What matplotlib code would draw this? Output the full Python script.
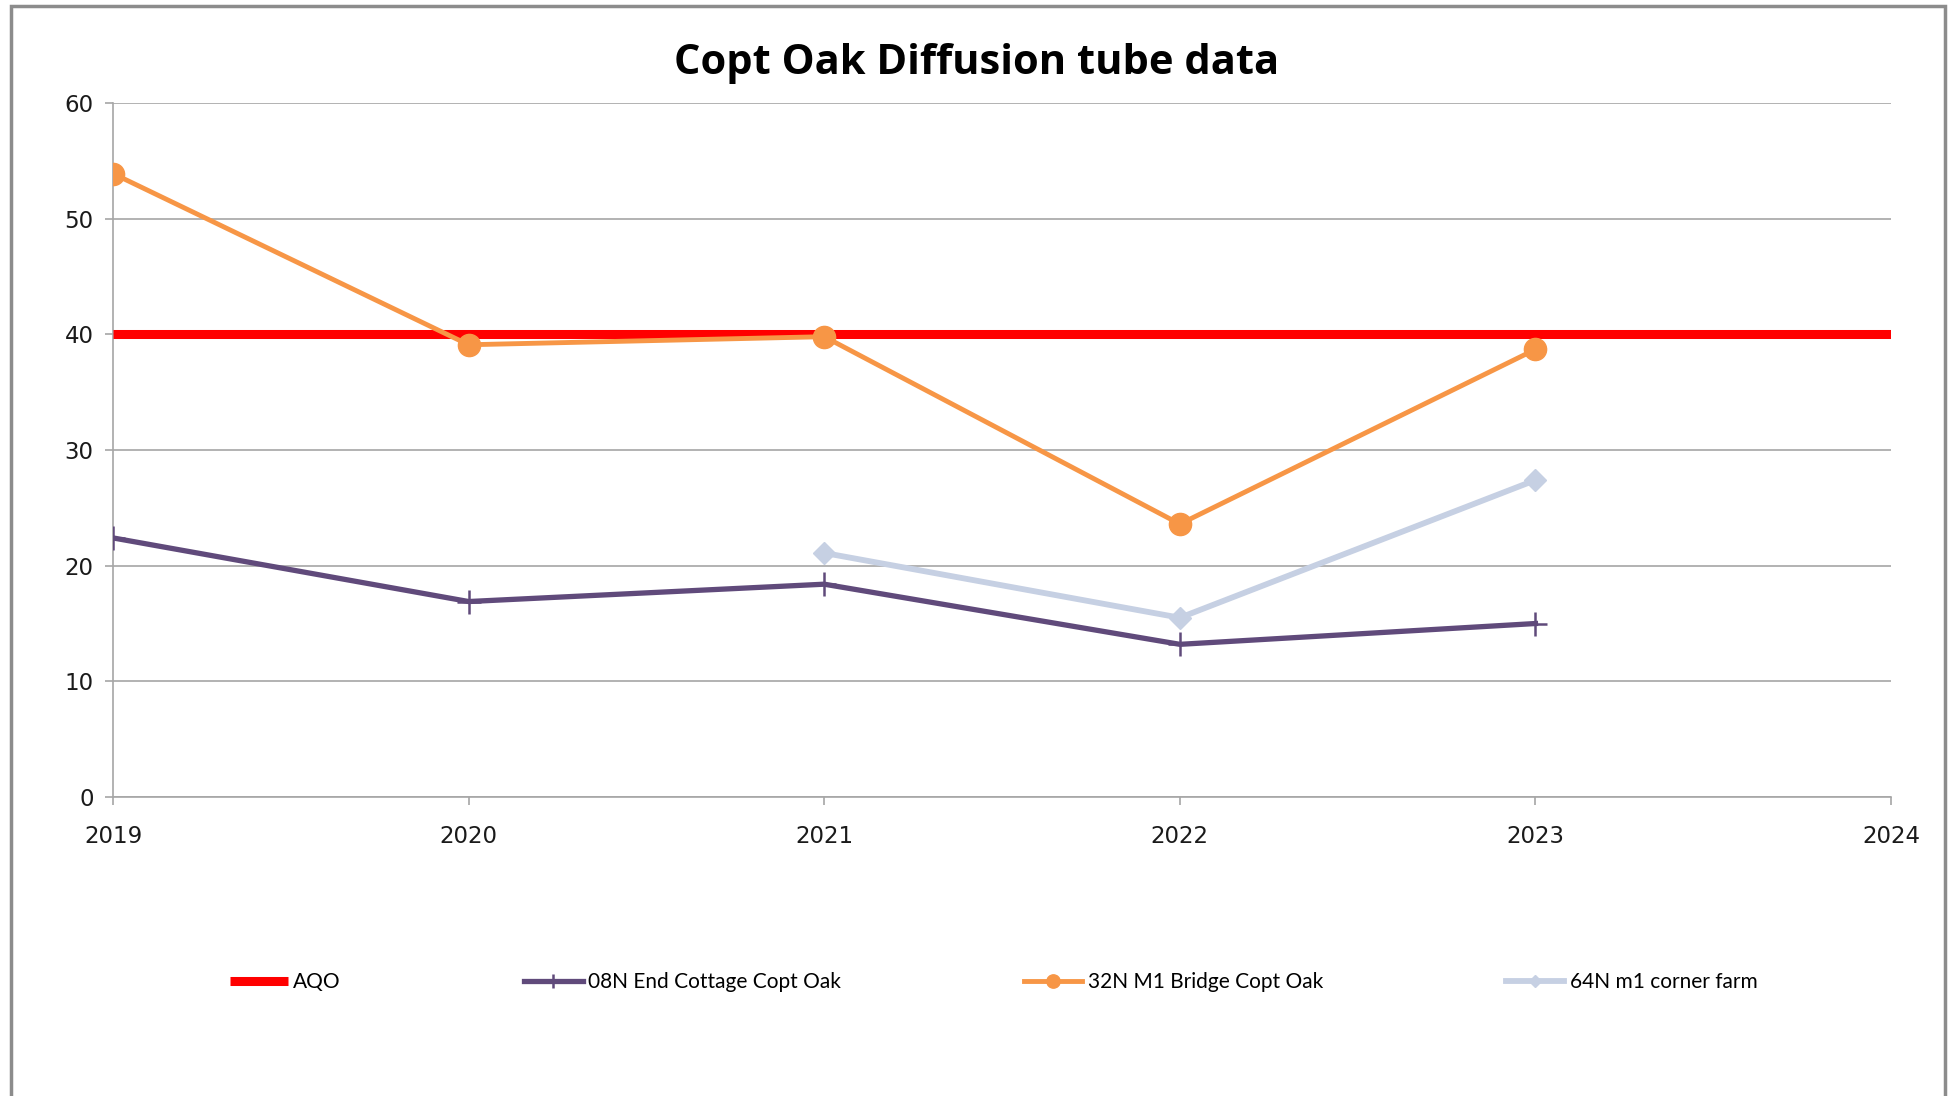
import matplotlib
matplotlib.use("Agg")
import matplotlib.pyplot as plt
from matplotlib.patches import Rectangle

years = [2019, 2020, 2021, 2022, 2023]
aqo_x = [2019, 2024]
aqo = [40, 40]
end_cottage = [22.4, 16.9, 18.4, 13.2, 15.0]
m1_bridge = [53.9, 39.1, 39.8, 23.6, 38.7]
corner_years = [2021, 2022, 2023]
corner_farm = [21.1, 15.5, 27.4]

labels = ["AQO", "08N End Cottage Copt Oak", "32N M1 Bridge Copt Oak", "64N m1 corner farm"]
yticks = [0, 10, 20, 30, 40, 50, 60]
xticks = [2019, 2020, 2021, 2022, 2023, 2024]

fig = plt.figure(figsize=(19.52, 10.96), dpi=100)
ax = fig.add_axes([0.0579, 0.2728, 0.9109, 0.6332])

grid_c = "#A6A6A6"
ax.plot(aqo_x, aqo, color="#FF0000", lw=6.5, solid_capstyle="butt", label=labels[0], zorder=3)
ax.plot(years, end_cottage, color="#604A7B", lw=3.8, marker="+", ms=17, mew=1.8,
        label=labels[1], zorder=4)
ax.plot(years, m1_bridge, color="#F79646", lw=3.5, marker="o", ms=16,
        label=labels[2], zorder=5)
ax.plot(corner_years, corner_farm, color="#C6D0E3", lw=4.2, marker="D", ms=11,
        label=labels[3], zorder=4)

ax.set_xlim(2019, 2024)
ax.set_ylim(0, 60)
ax.set_yticks(yticks)
ax.set_xticks(xticks)
ax.yaxis.grid(True, color=grid_c, lw=1.2)
ax.set_axisbelow(True)
for s in ["top", "right"]:
    ax.spines[s].set_visible(False)
for s in ["left", "bottom"]:
    ax.spines[s].set_color(grid_c)
    ax.spines[s].set_linewidth(1.2)
ax.tick_params(axis="both", colors=grid_c, length=6, width=1.2, labelsize=16.5,
               labelcolor="#1a1a1a")
ax.tick_params(axis="x", pad=14)
ax.tick_params(axis="y", pad=8)

fig.text(0.5005, 0.942, "Copt Oak Diffusion tube data", ha="center", va="center",
         fontsize=30, fontweight="bold", family=["Open Sans", "DejaVu Sans"])

leg = fig.legend(loc="center", bbox_to_anchor=(0.509, 0.104), ncol=4, frameon=False,
                 prop={"family": ["Lato", "DejaVu Sans"], "size": 15},
                 handlelength=2.8, handletextpad=0.25, columnspacing=8.8,
                 markerscale=0.6)

fig.patches.append(Rectangle((0.0056, -0.05), 0.9908, 1.0445, transform=fig.transFigure,
                             fill=False, edgecolor="#8C8C8C", lw=2.5))

fig.savefig("out.png", dpi=100, facecolor="white")
